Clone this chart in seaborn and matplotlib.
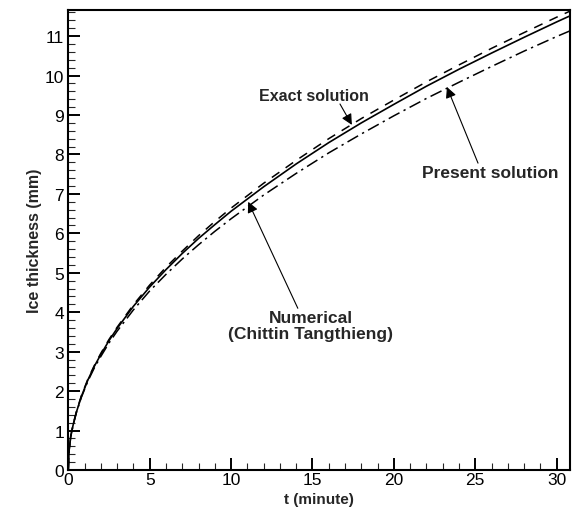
import numpy as np
import pandas as pd
import seaborn as sns
import matplotlib.pyplot as plt

# values
t = [0, 0.05, 0.15, 0.3, 0.5, 0.8, 1.2, 1.6, 2, 2.5, 3, 4, 5, 6, 7, 8, 9, 10,
     12, 14, 16, 18, 20, 22, 24, 26, 28, 30, 30.8]
exact = [0, 0.5, 0.85, 1.15, 1.47, 1.86, 2.28, 2.63, 2.93, 3.28, 3.59, 4.15,
         4.64, 5.08, 5.49, 5.87, 6.22, 6.56, 7.18, 7.76, 8.30, 8.80, 9.27,
         9.73, 10.16, 10.57, 10.97, 11.36, 11.51]
numerical = [0, 0.5, 0.86, 1.16, 1.48, 1.88, 2.30, 2.65, 2.96, 3.31, 3.62,
             4.19, 4.69, 5.14, 5.55, 5.94, 6.30, 6.64, 7.27, 7.85, 8.40, 8.91,
             9.38, 9.84, 10.27, 10.69, 11.09, 11.48, 11.63]
present = [0, 0.5, 0.85, 1.15, 1.46, 1.84, 2.25, 2.59, 2.88, 3.22, 3.52, 4.06,
           4.54, 4.96, 5.35, 5.71, 6.05, 6.37, 6.97, 7.52, 8.04, 8.52, 8.98,
           9.42, 9.83, 10.23, 10.62, 10.99, 11.13]

df = pd.DataFrame({"t": t, "exact": exact, "numerical": numerical,
                   "present": present})

sns.set_style("ticks")
plt.rcParams["font.family"] = ["Liberation Sans", "DejaVu Sans"]

fig = plt.figure(figsize=(5.74, 5.10), dpi=100)
ax = fig.add_axes([0.119, 0.0765, 0.874, 0.9025])

sns.lineplot(data=df, x="t", y="exact", ax=ax, color="black", lw=1.2)
sns.lineplot(data=df, x="t", y="numerical", ax=ax, color="black", lw=1.1,
             linestyle=(0, (6, 5)))
sns.lineplot(data=df, x="t", y="present", ax=ax, color="black", lw=1.1,
             linestyle=(0, (8, 3, 1.5, 3)))

ax.set_xlim(0, 30.82)
ax.set_ylim(0, 11.67)
ax.set_xticks(range(0, 31, 5))
ax.set_yticks(range(0, 12))
ax.set_xticks(np.arange(0, 31, 1), minor=True)
ax.set_yticks(np.arange(0, 11.7, 0.2), minor=True)
ax.tick_params(which="major", direction="in", length=8.5, width=1.4,
               labelsize=12.5, pad=3, colors="black")
ax.tick_params(axis="x", which="major", pad=1.5)
ax.tick_params(which="minor", direction="in", length=5, width=0.8)
for s in ax.spines.values():
    s.set_linewidth(1.5)
    s.set_color("black")

ax.set_xlabel("t (minute)", fontsize=11, fontweight="bold", va="center")
ax.xaxis.set_label_coords(0.5, -0.063)
ax.set_ylabel("Ice thickness (mm)", fontsize=11.5, fontweight="bold",
              labelpad=2)

arrow = dict(arrowstyle="-|>", color="black", lw=0.8,
             mutation_scale=16, shrinkA=0, shrinkB=0)
ax.text(15.1, 9.49, "Exact solution", ha="center", va="center",
        fontsize=11.5, fontweight="bold")
ax.annotate("", xy=(17.42, 8.75), xytext=(16.69, 9.28), arrowprops=arrow)

ax.text(25.95, 7.53, "Present solution", ha="center", va="center",
        fontsize=12.5, fontweight="bold")
ax.annotate("", xy=(23.26, 9.71), xytext=(25.17, 7.78), arrowprops=arrow)

ax.text(14.9, 3.66, "Numerical\n(Chittin Tangthieng)", ha="center",
        va="center", fontsize=12.5, fontweight="bold", linespacing=1.1)
ax.annotate("", xy=(11.05, 6.8), xytext=(14.1, 4.1), arrowprops=arrow)

fig.savefig("out.png", dpi=100)
